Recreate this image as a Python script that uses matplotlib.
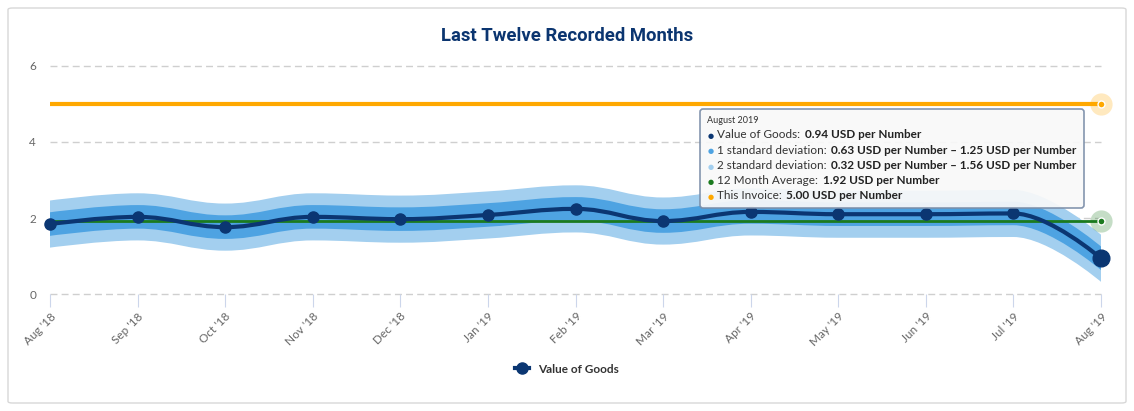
import matplotlib
matplotlib.use('Agg')
import matplotlib.pyplot as plt
import numpy as np
from matplotlib.path import Path
from matplotlib.patches import PathPatch, FancyBboxPatch
from matplotlib.lines import Line2D
from matplotlib.offsetbox import TextArea, HPacker, VPacker, AnnotationBbox

plt.rcParams['font.family'] = ['Lato', 'DejaVu Sans']

months = ["Aug '18", "Sep '18", "Oct '18", "Nov '18", "Dec '18", "Jan '19", "Feb '19",
          "Mar '19", "Apr '19", "May '19", "Jun '19", "Jul '19", "Aug '19"]
value_of_goods = [1.84, 2.03, 1.76, 2.03, 1.97, 2.08, 2.24, 1.92, 2.16, 2.10, 2.10, 2.12, 0.94]
std_dev = 0.31
avg_12m = 1.92
this_invoice = 5.00

NAVY = '#0b3672'
BAND1 = '#4ea3e2'
BAND2 = '#a3cfef'
GREEN = '#1b7a1e'
ORANGE = '#ffa800'


def spline_ctrl(x, y, smoothing=1.5):
    # highcharts-like spline control points
    n = len(x)
    lc = [(x[i], y[i]) for i in range(n)]
    rc = [(x[i], y[i]) for i in range(n)]
    d = smoothing + 1
    for i in range(1, n - 1):
        px, py = x[i], y[i]
        lx = (smoothing * px + x[i - 1]) / d
        ly = (smoothing * py + y[i - 1]) / d
        rx = (smoothing * px + x[i + 1]) / d
        ry = (smoothing * py + y[i + 1]) / d
        corr = (ry - ly) * (rx - px) / (rx - lx) + py - ry
        ly += corr
        ry += corr
        # no false extremes
        if ly > y[i - 1] and ly > py:
            ly = max(y[i - 1], py)
            ry = 2 * py - ly
        elif ly < y[i - 1] and ly < py:
            ly = min(y[i - 1], py)
            ry = 2 * py - ly
        if ry > y[i + 1] and ry > py:
            ry = max(y[i + 1], py)
            ly = 2 * py - ry
        elif ry < y[i + 1] and ry < py:
            ry = min(y[i + 1], py)
            ly = 2 * py - ry
        lc[i] = (lx, ly)
        rc[i] = (rx, ry)
    return lc, rc


def spline_verts(x, y):
    lc, rc = spline_ctrl(x, y)
    verts = [(x[0], y[0])]
    codes = [Path.MOVETO]
    for i in range(1, len(x)):
        verts += [rc[i - 1], lc[i], (x[i], y[i])]
        codes += [Path.CURVE4] * 3
    return verts, codes


def band_path(x, lo, hi):
    v1, c1 = spline_verts(x, hi)
    v2, c2 = spline_verts(x[::-1], lo[::-1])
    c2[0] = Path.LINETO
    verts = v1 + v2 + [v1[0]]
    codes = c1 + c2 + [Path.CLOSEPOLY]
    return Path(verts, codes)


fig = plt.figure(figsize=(11.34, 4.11), dpi=100)
frame = FancyBboxPatch((8 / 1134, 8 / 411), 1118 / 1134, 395 / 411,
                       boxstyle='round,pad=0,rounding_size=0.004',
                       transform=fig.transFigure, fc='none', ec='#d8d8d8', lw=1, zorder=-5)
fig.patches.append(frame)
ax = fig.add_axes([50 / 1134, 1 - 294 / 411, 1051 / 1134, 228 / 411])
ax.set_facecolor('none')

x = np.arange(len(months), dtype=float)
vals = np.array(value_of_goods)

ax.add_patch(PathPatch(band_path(list(x), list(vals - 2 * std_dev), list(vals + 2 * std_dev)),
                       fc=BAND2, ec='none', zorder=1))
ax.add_patch(PathPatch(band_path(list(x), list(vals - std_dev), list(vals + std_dev)),
                       fc=BAND1, ec='none', zorder=2))

ax.set_xlim(x[0], x[-1])
ax.set_ylim(0, 6)
ax.set_yticks([0, 2, 4, 6])
for yv in [0, 2, 4, 6]:
    ax.axhline(yv, color='#cfcfcf', linestyle=(0, (5, 3)), lw=1, zorder=0.5, clip_on=False)

ax.axhline(this_invoice, color=ORANGE, lw=3, zorder=3)
ax.plot([x[0], x[-1]], [avg_12m, avg_12m], color=GREEN, lw=2, zorder=4)

lv, lcodes = spline_verts(list(x), list(vals))
ax.add_patch(PathPatch(Path(lv, lcodes), fc='none', ec=NAVY, lw=3, zorder=5))
ax.plot(x[:-1], vals[:-1], 'o', color=NAVY, ms=8, zorder=6, clip_on=False)
ax.plot(x[-1], vals[-1], 'o', color=NAVY, ms=12, zorder=6, clip_on=False)

# hover halos at the last month
ax.plot(x[-1], this_invoice, 'o', color=ORANGE, ms=16, alpha=0.25, mec='none', zorder=6, clip_on=False)
ax.plot(x[-1], this_invoice, 'o', color=ORANGE, ms=5, mec='white', zorder=7, clip_on=False)
ax.plot(x[-1], avg_12m, 'o', color=GREEN, ms=16, alpha=0.25, mec='none', zorder=6, clip_on=False)
ax.plot(x[-1], avg_12m, 'o', color=GREEN, ms=5, mec='white', zorder=7, clip_on=False)

for s in ax.spines.values():
    s.set_visible(False)
ax.set_xticks(x)
ax.set_xticklabels(months, rotation=45, ha='right', rotation_mode='anchor')
ax.tick_params(axis='x', length=9, color='#ccd6eb', labelsize=8.5, labelcolor='#666666', pad=3)
ax.tick_params(axis='y', length=0, labelsize=8.5, labelcolor='#666666', pad=10)

fig.text(0.5, 1 - 36 / 411, 'Last Twelve Recorded Months', ha='center', va='center',
         fontsize=13.3, fontweight='bold', color='#0b3570', family=['Roboto', 'DejaVu Sans'])

# legend
leg_handle = Line2D([], [], color=NAVY, lw=3, marker='o', ms=8)
fig.legend([leg_handle], ['Value of Goods'], loc='center', bbox_to_anchor=(0.5, 1 - 369 / 411),
           frameon=False, handlelength=1.2, prop={'size': 8.5, 'weight': 'bold'},
           labelcolor='#333333')

# tooltip
fs = 8.5
rows = [
    (NAVY, 'Value of Goods:', '0.94 USD per Number'),
    (BAND1, '1 standard deviation:', '0.63 USD per Number – 1.25 USD per Number'),
    (BAND2, '2 standard deviation:', '0.32 USD per Number – 1.56 USD per Number'),
    (GREEN, '12 Month Average:', '1.92 USD per Number'),
    (ORANGE, 'This Invoice:', '5.00 USD per Number'),
]
lines = [TextArea('August 2019', textprops=dict(size=6.5, color='#333333'))]
for col, lab, val in rows:
    lines.append(HPacker(children=[
        TextArea('●', textprops=dict(size=5, color=col, family='DejaVu Sans')),
        TextArea(lab, textprops=dict(size=fs, color='#333333')),
        TextArea(val, textprops=dict(size=fs, color='#222222', weight='bold')),
    ], align='baseline', pad=0, sep=3))
box = VPacker(children=lines, align='left', pad=3, sep=3)
ab = AnnotationBbox(box, (703 / 1134, 1 - 112 / 411), xycoords='figure fraction',
                    box_alignment=(0, 1), pad=0.45,
                    bboxprops=dict(boxstyle='round,pad=0.2,rounding_size=0.2', fc='#f9f9f9',
                                   ec='#7a8da8', lw=1.2, alpha=0.92))
ab.set_zorder(10)
ax.add_artist(ab)

fig.savefig('out.png', dpi=100)
